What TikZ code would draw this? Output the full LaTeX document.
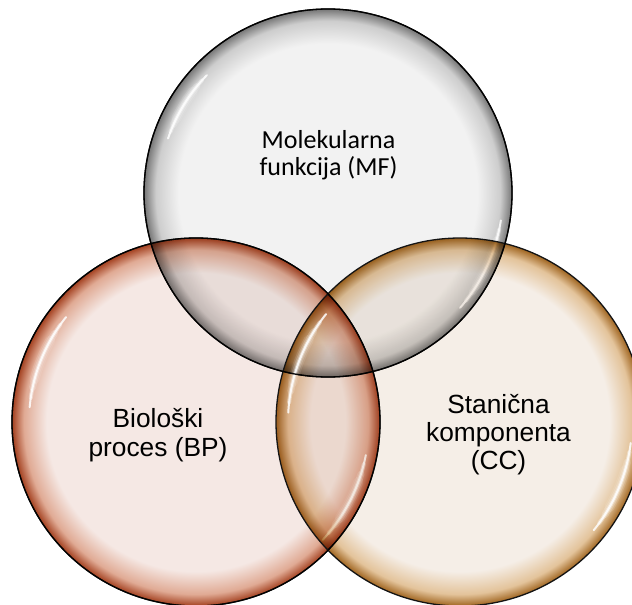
\documentclass[tikz,border=0pt]{standalone}
\usepackage{fontspec}
\newfontfamily\calibfont{Carlito}
\newfontfamily\arialfont{Liberation Sans}
\definecolor{mfin}{HTML}{F2F2F2}
\definecolor{mfmid}{HTML}{CDCDCD}
\definecolor{mfrim}{HTML}{767676}
\definecolor{bpin}{HTML}{F5E8E4}
\definecolor{bpmid}{HTML}{E0AA94}
\definecolor{bprim}{HTML}{A3401F}
\definecolor{ccin}{HTML}{F5EEE7}
\definecolor{ccmid}{HTML}{E3C39A}
\definecolor{ccrim}{HTML}{A06520}
\pgfdeclareradialshading{mfshade}{\pgfpoint{0bp}{0bp}}{color(0bp)=(mfin); color(20.3bp)=(mfin); color(23.4bp)=(mfmid); color(25bp)=(mfrim); color(50bp)=(mfrim)}
\pgfdeclareradialshading{bpshade}{\pgfpoint{0bp}{0bp}}{color(0bp)=(bpin); color(20.3bp)=(bpin); color(23.4bp)=(bpmid); color(25bp)=(bprim); color(50bp)=(bprim)}
\pgfdeclareradialshading{ccshade}{\pgfpoint{0bp}{0bp}}{color(0bp)=(ccin); color(20.3bp)=(ccin); color(23.4bp)=(ccmid); color(25bp)=(ccrim); color(50bp)=(ccrim)}
\newcommand{\glossarc}[4]{%
  \foreach \w/\o/\t in {10/0.10/0.30, 7/0.18/0.22, 4/0.38/0.12, 2/0.85/0.03}{%
    \pgfmathsetmacro\aa{#2+\t*(#3-#2)}%
    \pgfmathsetmacro\bb{#3-\t*(#3-#2)}%
    \draw[white, line width=\w pt, opacity=\o, line cap=round]
      (#1) ++(\aa:#4) arc[start angle=\aa, end angle=\bb, radius=#4];
  }%
}
\tikzset{
  rimline/.style={draw=black!92, line width=1.3pt},
  labelA/.style={font=\calibfont\fontsize{26}{26.7}\selectfont, align=center, anchor=base, inner sep=0pt},
  labelB/.style={font=\arialfont\fontsize{26.3}{28.3}\selectfont, align=center, anchor=base, inner sep=0pt}
}
\begin{document}
\begin{tikzpicture}[x=1pt,y=1pt]
\useasboundingbox (0,0) rectangle (632,-605);
\clip (0,0) rectangle (632,-605);
\fill[white] (0,0) rectangle (632,-605);
\coordinate (mfc) at (328,-193);
\coordinate (bpc) at (196,-422);
\coordinate (ccc) at (460,-422);
% MF
\begin{scope}[blend mode=multiply]
  \shade[shading=mfshade] (mfc) circle (184);
\end{scope}
\draw[rimline] (mfc) circle (184);
\glossarc{mfc}{135}{162}{169}
\glossarc{mfc}{-42}{-8}{175}
% BP
\begin{scope}[blend mode=multiply]
  \shade[shading=bpshade] (bpc) circle (184);
\end{scope}
\draw[rimline] (bpc) circle (184);
\glossarc{bpc}{140}{176}{167}
\glossarc{bpc}{-44}{-10}{173}
% CC
\begin{scope}[blend mode=multiply]
  \shade[shading=ccshade] (ccc) circle (184);
\end{scope}
\draw[rimline] (ccc) circle (184);
\glossarc{ccc}{140}{178}{172}
\glossarc{ccc}{-40}{-6}{172}
% outlines again on top
\begin{scope}[blend mode=multiply]
\draw[rimline] (mfc) circle (184);
\draw[rimline] (bpc) circle (184);
\end{scope}
% labels (base anchor = last line baseline)
\node[labelA] (mf) at (328.5,-175) {Molekularna\\funkcija (MF)};
\node[labelB] (bp) at (158,-456) {Biološki\\proces (BP)};
\node[labelB] (cc) at (498.5,-469.6) {Stanična\\komponenta\\(CC)};
\end{tikzpicture}
\end{document}
